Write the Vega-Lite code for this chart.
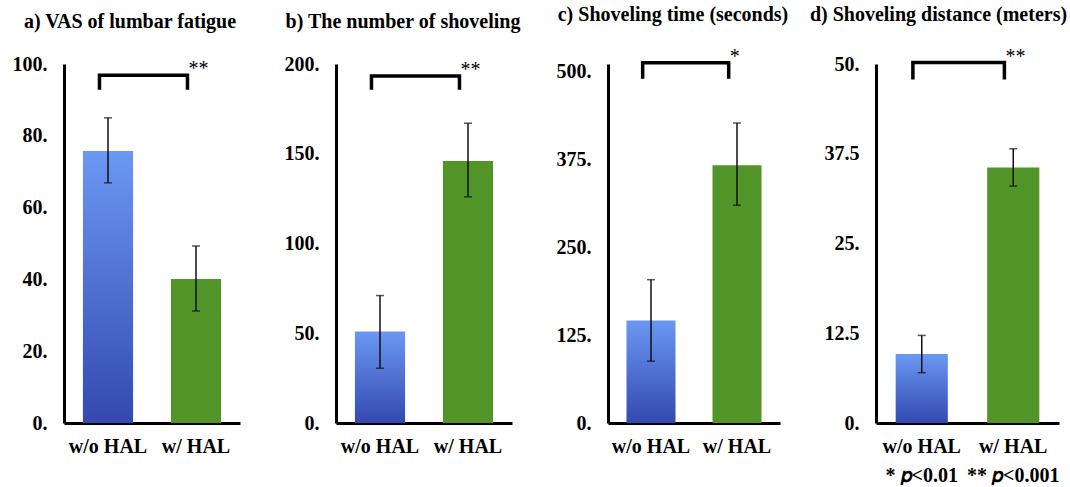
{
  "$schema": "https://vega.github.io/schema/vega-lite/v6.json",
  "padding": {"left": 12, "top": 4, "right": 0, "bottom": 0},
  "background": "white",
  "datasets": {
    "bars": [
      {"panel": "a", "group": "w/o HAL", "mean": 75.8, "lo": 66.9, "hi": 85.0},
      {"panel": "a", "group": "w/ HAL", "mean": 40.1, "lo": 31.2, "hi": 49.3},
      {"panel": "b", "group": "w/o HAL", "mean": 51, "lo": 30.5, "hi": 71},
      {"panel": "b", "group": "w/ HAL", "mean": 146, "lo": 126, "hi": 167},
      {"panel": "c", "group": "w/o HAL", "mean": 146, "lo": 88, "hi": 204},
      {"panel": "c", "group": "w/ HAL", "mean": 367, "lo": 310, "hi": 427},
      {"panel": "d", "group": "w/o HAL", "mean": 9.6, "lo": 7.0, "hi": 12.2},
      {"panel": "d", "group": "w/ HAL", "mean": 35.6, "lo": 33.0, "hi": 38.2}
    ],
    "brackets": [
      {"panel": "a", "group": "w/o HAL", "y": 93.3, "ord": 1},
      {"panel": "a", "group": "w/o HAL", "y": 96.9, "ord": 2},
      {"panel": "a", "group": "w/ HAL", "y": 96.9, "ord": 3},
      {"panel": "a", "group": "w/ HAL", "y": 93.3, "ord": 4},
      {"panel": "b", "group": "w/o HAL", "y": 186.6, "ord": 1},
      {"panel": "b", "group": "w/o HAL", "y": 193.3, "ord": 2},
      {"panel": "b", "group": "w/ HAL", "y": 193.3, "ord": 3},
      {"panel": "b", "group": "w/ HAL", "y": 186.6, "ord": 4},
      {"panel": "c", "group": "w/o HAL", "y": 492.5, "ord": 1},
      {"panel": "c", "group": "w/o HAL", "y": 512.8, "ord": 2},
      {"panel": "c", "group": "w/ HAL", "y": 512.8, "ord": 3},
      {"panel": "c", "group": "w/ HAL", "y": 492.5, "ord": 4},
      {"panel": "d", "group": "w/o HAL", "y": 48.1, "ord": 1},
      {"panel": "d", "group": "w/o HAL", "y": 50.2, "ord": 2},
      {"panel": "d", "group": "w/ HAL", "y": 50.2, "ord": 3},
      {"panel": "d", "group": "w/ HAL", "y": 48.1, "ord": 4}
    ],
    "stars": [
      {"panel": "a", "group": "w/ HAL", "y": 96.9, "text": "**"},
      {"panel": "b", "group": "w/ HAL", "y": 193.3, "text": "**"},
      {"panel": "c", "group": "w/ HAL", "y": 512.8, "text": "*"},
      {"panel": "d", "group": "w/ HAL", "y": 50.2, "text": "**"}
    ]
  },
  "spacing": 96,
  "bounds": "flush",
  "hconcat": [
    {
      "width": 176, "height": 359,
      "title": {"text": "a) VAS of lumbar fatigue", "dx": 4},
      "layer": [
        {"data": {"name": "bars"}, "transform": [{"filter": "datum.panel == 'a' && datum.group == 'w/o HAL'"}],
         "mark": {"type": "bar", "color": {"gradient": "linear", "x1": 0, "y1": 0, "x2": 0, "y2": 1, "stops": [{"offset": 0, "color": "#6b98f3"}, {"offset": 1, "color": "#3349b0"}]}},
         "encoding": {
           "x": {"field": "group", "type": "nominal", "title": null, "scale": {"domain": ["w/o HAL", "w/ HAL"], "paddingInner": 0.43, "paddingOuter": 0.215}, "axis": {"labelAngle": 0, "labelPadding": 13}},
           "y": {"field": "mean", "type": "quantitative", "title": null, "scale": {"domain": [0, 100], "nice": false}, "axis": {"values": [0, 20, 40, 60, 80, 100], "labelPadding": 17, "labelExpr": "datum.value % 1 == 0 ? datum.value + '.' : format(datum.value, '.1f')"}}
         }},
        {"data": {"name": "bars"}, "transform": [{"filter": "datum.panel == 'a' && datum.group == 'w/ HAL'"}],
         "mark": {"type": "bar", "color": "#519529"},
         "encoding": {"x": {"field": "group", "type": "nominal", "title": null}, "y": {"field": "mean", "type": "quantitative", "title": null}}},
        {"data": {"name": "bars"}, "transform": [{"filter": "datum.panel == 'a'"}],
         "mark": {"type": "rule", "color": "#111", "strokeWidth": 1.5},
         "encoding": {"x": {"field": "group", "type": "nominal", "title": null}, "y": {"field": "lo", "type": "quantitative", "title": null}, "y2": {"field": "hi"}}},
        {"data": {"name": "bars"}, "transform": [{"filter": "datum.panel == 'a'"}],
         "mark": {"type": "tick", "color": "#111", "size": 8, "thickness": 1.5},
         "encoding": {"x": {"field": "group", "type": "nominal", "title": null}, "y": {"field": "lo", "type": "quantitative", "title": null}}},
        {"data": {"name": "bars"}, "transform": [{"filter": "datum.panel == 'a'"}],
         "mark": {"type": "tick", "color": "#111", "size": 8, "thickness": 1.5},
         "encoding": {"x": {"field": "group", "type": "nominal", "title": null}, "y": {"field": "hi", "type": "quantitative", "title": null}}},
        {"data": {"name": "brackets"}, "transform": [{"filter": "datum.panel == 'a'"}],
         "mark": {"type": "line", "color": "#000", "strokeWidth": 3.5, "strokeCap": "square", "strokeJoin": "miter"},
         "encoding": {"x": {"field": "group", "type": "nominal", "title": null, "bandPosition": 0.33}, "y": {"field": "y", "type": "quantitative", "title": null}, "order": {"field": "ord"}}},
        {"data": {"name": "stars"}, "transform": [{"filter": "datum.panel == 'a'"}],
         "mark": {"type": "text", "align": "left", "baseline": "alphabetic", "font": "Times New Roman, Liberation Serif, serif", "fontSize": 20, "color": "#000"},
         "encoding": {"x": {"field": "group", "type": "nominal", "title": null, "bandPosition": 0.35}, "y": {"field": "y", "type": "quantitative", "title": null}, "text": {"field": "text"}}}
      ]
    },
    {
      "width": 176, "height": 359,
      "title": {"text": "b) The number of shoveling", "dx": 5},
      "layer": [
        {"data": {"name": "bars"}, "transform": [{"filter": "datum.panel == 'b' && datum.group == 'w/o HAL'"}],
         "mark": {"type": "bar", "color": {"gradient": "linear", "x1": 0, "y1": 0, "x2": 0, "y2": 1, "stops": [{"offset": 0, "color": "#6b98f3"}, {"offset": 1, "color": "#3349b0"}]}},
         "encoding": {
           "x": {"field": "group", "type": "nominal", "title": null, "scale": {"domain": ["w/o HAL", "w/ HAL"], "paddingInner": 0.43, "paddingOuter": 0.215}, "axis": {"labelAngle": 0, "labelPadding": 13}},
           "y": {"field": "mean", "type": "quantitative", "title": null, "scale": {"domain": [0, 200], "nice": false}, "axis": {"values": [0, 50, 100, 150, 200], "labelPadding": 17, "labelExpr": "datum.value % 1 == 0 ? datum.value + '.' : format(datum.value, '.1f')"}}
         }},
        {"data": {"name": "bars"}, "transform": [{"filter": "datum.panel == 'b' && datum.group == 'w/ HAL'"}],
         "mark": {"type": "bar", "color": "#519529"},
         "encoding": {"x": {"field": "group", "type": "nominal", "title": null}, "y": {"field": "mean", "type": "quantitative", "title": null}}},
        {"data": {"name": "bars"}, "transform": [{"filter": "datum.panel == 'b'"}],
         "mark": {"type": "rule", "color": "#111", "strokeWidth": 1.5},
         "encoding": {"x": {"field": "group", "type": "nominal", "title": null}, "y": {"field": "lo", "type": "quantitative", "title": null}, "y2": {"field": "hi"}}},
        {"data": {"name": "bars"}, "transform": [{"filter": "datum.panel == 'b'"}],
         "mark": {"type": "tick", "color": "#111", "size": 8, "thickness": 1.5},
         "encoding": {"x": {"field": "group", "type": "nominal", "title": null}, "y": {"field": "lo", "type": "quantitative", "title": null}}},
        {"data": {"name": "bars"}, "transform": [{"filter": "datum.panel == 'b'"}],
         "mark": {"type": "tick", "color": "#111", "size": 8, "thickness": 1.5},
         "encoding": {"x": {"field": "group", "type": "nominal", "title": null}, "y": {"field": "hi", "type": "quantitative", "title": null}}},
        {"data": {"name": "brackets"}, "transform": [{"filter": "datum.panel == 'b'"}],
         "mark": {"type": "line", "color": "#000", "strokeWidth": 3.5, "strokeCap": "square", "strokeJoin": "miter"},
         "encoding": {"x": {"field": "group", "type": "nominal", "title": null, "bandPosition": 0.33}, "y": {"field": "y", "type": "quantitative", "title": null}, "order": {"field": "ord"}}},
        {"data": {"name": "stars"}, "transform": [{"filter": "datum.panel == 'b'"}],
         "mark": {"type": "text", "align": "left", "baseline": "alphabetic", "font": "Times New Roman, Liberation Serif, serif", "fontSize": 20, "color": "#000"},
         "encoding": {"x": {"field": "group", "type": "nominal", "title": null, "bandPosition": 0.35}, "y": {"field": "y", "type": "quantitative", "title": null}, "text": {"field": "text"}}}
      ]
    },
    {
      "width": 172, "height": 359,
      "title": {"text": "c) Shoveling time (seconds)", "dx": 5},
      "layer": [
        {"data": {"name": "bars"}, "transform": [{"filter": "datum.panel == 'c' && datum.group == 'w/o HAL'"}],
         "mark": {"type": "bar", "color": {"gradient": "linear", "x1": 0, "y1": 0, "x2": 0, "y2": 1, "stops": [{"offset": 0, "color": "#6b98f3"}, {"offset": 1, "color": "#3349b0"}]}},
         "encoding": {
           "x": {"field": "group", "type": "nominal", "title": null, "scale": {"domain": ["w/o HAL", "w/ HAL"], "paddingInner": 0.43, "paddingOuter": 0.215}, "axis": {"labelAngle": 0, "labelPadding": 13}},
           "y": {"field": "mean", "type": "quantitative", "title": null, "scale": {"domain": [0, 511], "nice": false}, "axis": {"values": [0, 125, 250, 375, 500], "labelPadding": 17, "labelExpr": "datum.value % 1 == 0 ? datum.value + '.' : format(datum.value, '.1f')"}}
         }},
        {"data": {"name": "bars"}, "transform": [{"filter": "datum.panel == 'c' && datum.group == 'w/ HAL'"}],
         "mark": {"type": "bar", "color": "#519529"},
         "encoding": {"x": {"field": "group", "type": "nominal", "title": null}, "y": {"field": "mean", "type": "quantitative", "title": null}}},
        {"data": {"name": "bars"}, "transform": [{"filter": "datum.panel == 'c'"}],
         "mark": {"type": "rule", "color": "#111", "strokeWidth": 1.5},
         "encoding": {"x": {"field": "group", "type": "nominal", "title": null}, "y": {"field": "lo", "type": "quantitative", "title": null}, "y2": {"field": "hi"}}},
        {"data": {"name": "bars"}, "transform": [{"filter": "datum.panel == 'c'"}],
         "mark": {"type": "tick", "color": "#111", "size": 8, "thickness": 1.5},
         "encoding": {"x": {"field": "group", "type": "nominal", "title": null}, "y": {"field": "lo", "type": "quantitative", "title": null}}},
        {"data": {"name": "bars"}, "transform": [{"filter": "datum.panel == 'c'"}],
         "mark": {"type": "tick", "color": "#111", "size": 8, "thickness": 1.5},
         "encoding": {"x": {"field": "group", "type": "nominal", "title": null}, "y": {"field": "hi", "type": "quantitative", "title": null}}},
        {"data": {"name": "brackets"}, "transform": [{"filter": "datum.panel == 'c'"}],
         "mark": {"type": "line", "color": "#000", "strokeWidth": 3.5, "strokeCap": "square", "strokeJoin": "miter"},
         "encoding": {"x": {"field": "group", "type": "nominal", "title": null, "bandPosition": 0.33}, "y": {"field": "y", "type": "quantitative", "title": null}, "order": {"field": "ord"}}},
        {"data": {"name": "stars"}, "transform": [{"filter": "datum.panel == 'c'"}],
         "mark": {"type": "text", "align": "left", "baseline": "alphabetic", "font": "Times New Roman, Liberation Serif, serif", "fontSize": 20, "color": "#000"},
         "encoding": {"x": {"field": "group", "type": "nominal", "title": null, "bandPosition": 0.35}, "y": {"field": "y", "type": "quantitative", "title": null}, "text": {"field": "text"}}}
      ]
    },
    {
      "width": 183, "height": 359,
      "title": {"text": "d) Shoveling distance (meters)", "dx": -3},
      "layer": [
        {"data": {"name": "bars"}, "transform": [{"filter": "datum.panel == 'd' && datum.group == 'w/o HAL'"}],
         "mark": {"type": "bar", "color": {"gradient": "linear", "x1": 0, "y1": 0, "x2": 0, "y2": 1, "stops": [{"offset": 0, "color": "#6b98f3"}, {"offset": 1, "color": "#3349b0"}]}},
         "encoding": {
           "x": {"field": "group", "type": "nominal", "title": null, "scale": {"domain": ["w/o HAL", "w/ HAL"], "paddingInner": 0.43, "paddingOuter": 0.215}, "axis": {"labelAngle": 0, "labelPadding": 13, "labelLineHeight": 29, "labelExpr": "[datum.label, datum.label == 'w/o HAL' ? '* 𝑝<0.01' : '** 𝑝<0.001']"}},
           "y": {"field": "mean", "type": "quantitative", "title": null, "scale": {"domain": [0, 50], "nice": false}, "axis": {"values": [0, 12.5, 25, 37.5, 50], "labelPadding": 17, "labelExpr": "datum.value % 1 == 0 ? datum.value + '.' : format(datum.value, '.1f')"}}
         }},
        {"data": {"name": "bars"}, "transform": [{"filter": "datum.panel == 'd' && datum.group == 'w/ HAL'"}],
         "mark": {"type": "bar", "color": "#519529"},
         "encoding": {"x": {"field": "group", "type": "nominal", "title": null}, "y": {"field": "mean", "type": "quantitative", "title": null}}},
        {"data": {"name": "bars"}, "transform": [{"filter": "datum.panel == 'd'"}],
         "mark": {"type": "rule", "color": "#111", "strokeWidth": 1.5},
         "encoding": {"x": {"field": "group", "type": "nominal", "title": null}, "y": {"field": "lo", "type": "quantitative", "title": null}, "y2": {"field": "hi"}}},
        {"data": {"name": "bars"}, "transform": [{"filter": "datum.panel == 'd'"}],
         "mark": {"type": "tick", "color": "#111", "size": 8, "thickness": 1.5},
         "encoding": {"x": {"field": "group", "type": "nominal", "title": null}, "y": {"field": "lo", "type": "quantitative", "title": null}}},
        {"data": {"name": "bars"}, "transform": [{"filter": "datum.panel == 'd'"}],
         "mark": {"type": "tick", "color": "#111", "size": 8, "thickness": 1.5},
         "encoding": {"x": {"field": "group", "type": "nominal", "title": null}, "y": {"field": "hi", "type": "quantitative", "title": null}}},
        {"data": {"name": "brackets"}, "transform": [{"filter": "datum.panel == 'd'"}],
         "mark": {"type": "line", "color": "#000", "strokeWidth": 3.5, "strokeCap": "square", "strokeJoin": "miter"},
         "encoding": {"x": {"field": "group", "type": "nominal", "title": null, "bandPosition": 0.33}, "y": {"field": "y", "type": "quantitative", "title": null}, "order": {"field": "ord"}}},
        {"data": {"name": "stars"}, "transform": [{"filter": "datum.panel == 'd'"}],
         "mark": {"type": "text", "align": "left", "baseline": "alphabetic", "font": "Times New Roman, Liberation Serif, serif", "fontSize": 20, "color": "#000"},
         "encoding": {"x": {"field": "group", "type": "nominal", "title": null, "bandPosition": 0.35}, "y": {"field": "y", "type": "quantitative", "title": null}, "text": {"field": "text"}}}
      ]
    }
  ],
  "config": {
    "view": {"stroke": null},
    "font": "Times New Roman, Liberation Serif, serif",
    "axis": {"labelFont": "Times New Roman, Liberation Serif, serif", "labelFontSize": 20, "labelFontWeight": "bold", "labelColor": "#000", "domainColor": "#000", "domainWidth": 3, "ticks": false, "grid": false},
    "title": {"font": "Times New Roman, Liberation Serif, serif", "fontSize": 20, "fontWeight": "bold", "color": "#000", "anchor": "middle", "frame": "bounds", "offset": 22}
  }
}
